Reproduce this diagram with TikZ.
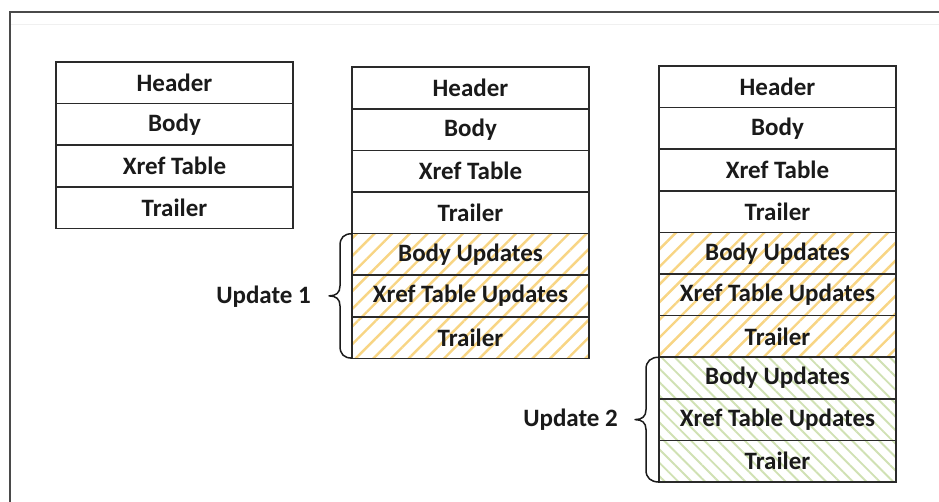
\documentclass[tikz,border=0pt]{standalone}
\usepackage{fontspec}
\setmainfont{Carlito}
\usetikzlibrary{patterns.meta}
\definecolor{edge}{HTML}{2A2A2A}
\definecolor{ink}{HTML}{1A1A1A}
\definecolor{frame}{HTML}{4A4A4A}
\definecolor{hatchY}{HTML}{F8D584}
\definecolor{hatchG}{HTML}{D0E1B3}
\tikzset{
  cell/.style={draw=edge, line width=1.6pt, minimum width=237pt,
    minimum height=41.6pt, anchor=north west, inner sep=0pt, outer sep=0pt,
    font=\fontsize{25}{28}\selectfont\bfseries, text=ink},
  upd1/.style={cell, pattern={Lines[angle=45,distance=12.5pt,line width=2.4pt]},
    pattern color=hatchY},
  upd2/.style={cell, pattern={Lines[angle=-45,distance=9.5pt,line width=1.9pt]},
    pattern color=hatchG},
  lbl/.style={font=\fontsize{25}{28}\selectfont\bfseries, text=ink, inner sep=0pt},
  bracepen/.style={draw=ink, line width=1.5pt, line cap=round, line join=round},
  pics/ubrace/.style 2 args={code={
    \draw[bracepen] (0,0) .. controls (-8,0) and (-#2,4) .. (-#2,12)
      -- (-#2,#1-10) .. controls (-#2,#1-3) and (-#2-4,#1) .. (-#2-11,#1)
      .. controls (-#2-4,#1) and (-#2,#1+3) .. (-#2,#1+10)
      -- (-#2,2*#1-12) .. controls (-#2,2*#1-4) and (-8,2*#1) .. (0,2*#1);
  }}
}
\begin{document}
\begin{tikzpicture}[x=1pt,y=-1pt]
  \useasboundingbox (0,0) rectangle (939,502);
  \fill[white] (0,0) rectangle (939,502);

  % page frame
  \draw[frame, line width=1.6pt] (10,502) -- (10,12) -- (939,12);
  \draw[black!6, line width=0.8pt] (11,24) -- (939,24);

  % original file
  \node[cell] (a1) at (56,62) {Header};
  \node[cell] (a2) at (a1.south west) {Body};
  \node[cell] (a3) at (a2.south west) {Xref Table};
  \node[cell] (a4) at (a3.south west) {Trailer};

  % file after one incremental update
  \node[cell] (b1) at (352,67.3) {Header};
  \node[cell] (b2) at (b1.south west) {Body};
  \node[cell] (b3) at (b2.south west) {Xref Table};
  \node[cell] (b4) at (b3.south west) {Trailer};
  \node[upd1] (b5) at (b4.south west) {Body Updates};
  \node[upd1] (b6) at (b5.south west) {Xref Table Updates};
  \node[upd1] (b7) at (b6.south west) {Trailer};

  % file after two incremental updates
  \node[cell] (c1) at (659,66) {Header};
  \node[cell] (c2) at (c1.south west) {Body};
  \node[cell] (c3) at (c2.south west) {Xref Table};
  \node[cell] (c4) at (c3.south west) {Trailer};
  \node[upd1] (c5) at (c4.south west) {Body Updates};
  \node[upd1] (c6) at (c5.south west) {Xref Table Updates};
  \node[upd1] (c7) at (c6.south west) {Trailer};
  \node[upd2] (c8) at (c7.south west) {Body Updates};
  \node[upd2] (c9) at (c8.south west) {Xref Table Updates};
  \node[upd2] (c10) at (c9.south west) {Trailer};

  % braces and their labels
  \pic at (b5.north west) {ubrace={62.2}{12}};
  \node[lbl, anchor=east] (u1) at (311,297) {Update 1};
  \pic at (c8.north west) {ubrace={62.4}{13}};
  \node[lbl, anchor=east] (u2) at (618,420) {Update 2};
\end{tikzpicture}
\end{document}
